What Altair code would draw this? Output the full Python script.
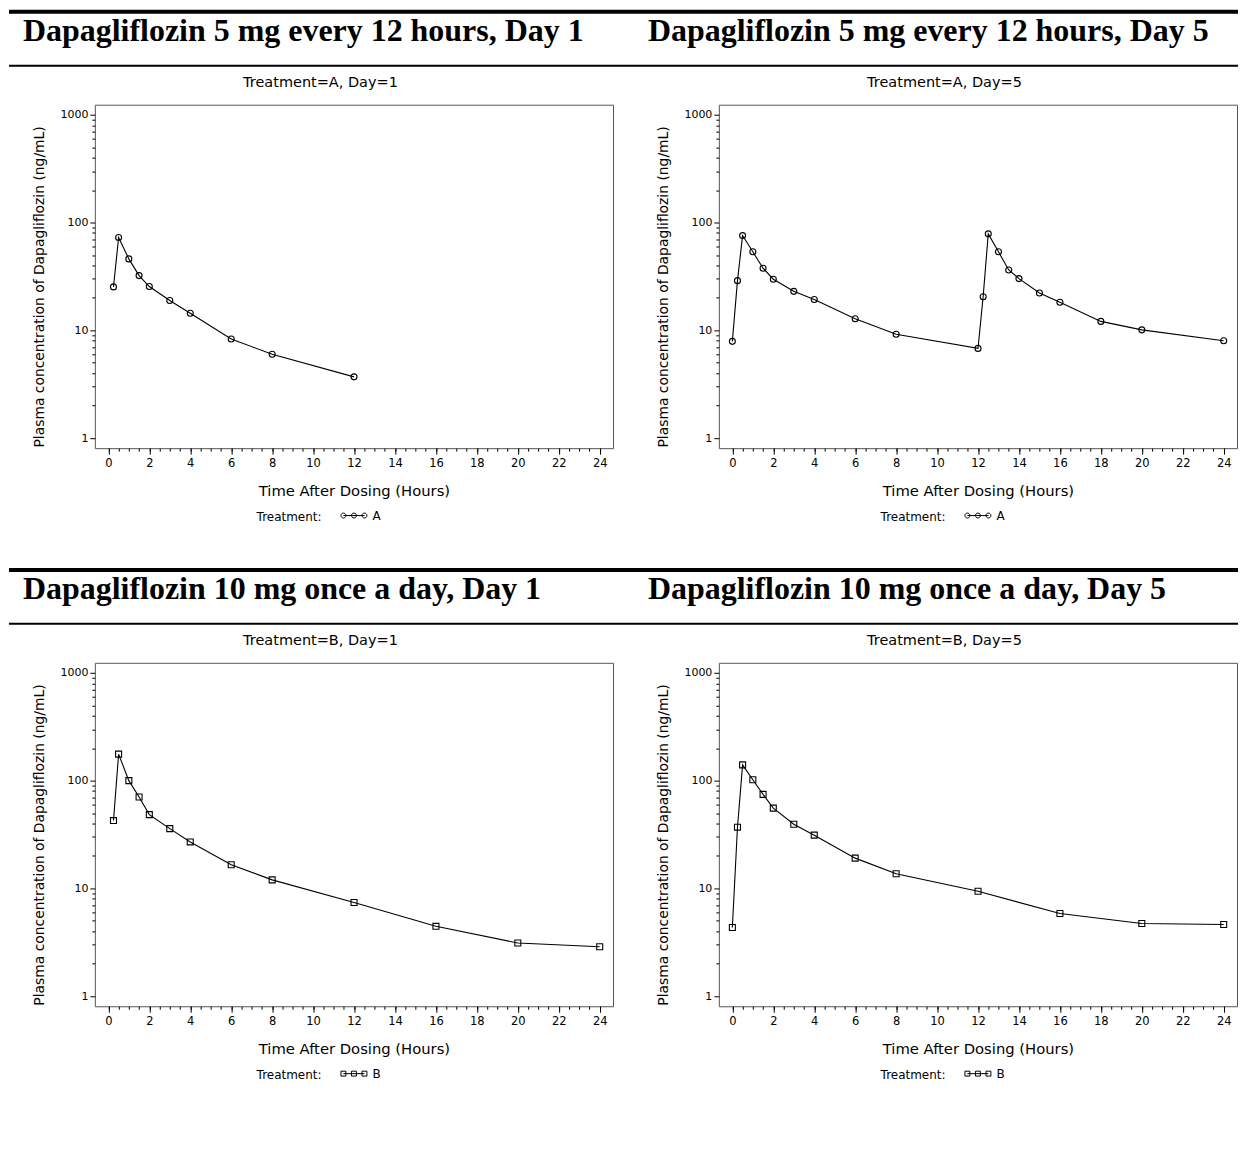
import altair as alt
import pandas as pd

# ---- data ----
times_A1 = [0.25, 0.5, 1, 1.5, 2, 3, 4, 6, 8, 12]
conc_A1 = [25.3, 72.6, 46.0, 32.2, 25.5, 18.9, 14.4, 8.3, 6.0, 3.7]

times_A5 = [0, 0.25, 0.5, 1, 1.5, 2, 3, 4, 6, 8, 12, 12.25, 12.5, 13, 13.5, 14, 15, 16, 18, 20, 24]
conc_A5 = [7.9, 28.9, 75.7, 53.5, 37.7, 29.8, 23.0, 19.3, 12.8, 9.2, 6.8,
           20.5, 78.5, 53.5, 36.3, 30.2, 22.2, 18.2, 12.1, 10.1, 8.0]

times_B1 = [0.25, 0.5, 1, 1.5, 2, 3, 4, 6, 8, 12, 16, 20, 24]
conc_B1 = [42.6, 176, 100, 70.6, 48.4, 35.9, 27.0, 16.6, 12.0, 7.4, 4.45, 3.12, 2.88]

times_B5 = [0, 0.25, 0.5, 1, 1.5, 2, 3, 4, 6, 8, 12, 16, 20, 24]
conc_B5 = [4.34, 37.0, 140, 102, 74.6, 55.6, 39.4, 31.2, 19.1, 13.7, 9.4, 5.85, 4.72, 4.63]

titles = [
    "Dapagliflozin 5 mg every 12 hours, Day 1",
    "Dapagliflozin 5 mg every 12 hours, Day 5",
    "Dapagliflozin 10 mg once a day, Day 1",
    "Dapagliflozin 10 mg once a day, Day 5",
]
subtitles = ["Treatment=A, Day=1", "Treatment=A, Day=5", "Treatment=B, Day=1", "Treatment=B, Day=5"]

x_major_ticks = list(range(0, 25, 2))
x_minor_ticks = [i * 0.5 for i in range(0, 49)]
y_major_ticks = [1, 10, 100, 1000]
y_minor_ticks = [m * d for d in (1, 10, 100) for m in range(2, 10)]

SANS = "DejaVu Sans"
SERIF = "Liberation Serif"
W, H = 519, 344

CIRCLES = ("M-0.81,0L0.81,0"
           "M-0.62,0A0.19,0.19,0,1,1,-1,0A0.19,0.19,0,1,1,-0.62,0"
           "M0.19,0A0.19,0.19,0,1,1,-0.19,0A0.19,0.19,0,1,1,0.19,0"
           "M1,0A0.19,0.19,0,1,1,0.62,0A0.19,0.19,0,1,1,1,0")
SQUARES = ("M-0.81,0L0.81,0"
           "M-1,-0.19L-0.62,-0.19L-0.62,0.19L-1,0.19Z"
           "M-0.19,-0.19L0.19,-0.19L0.19,0.19L-0.19,0.19Z"
           "M0.62,-0.19L1,-0.19L1,0.19L0.62,0.19Z")

xscale = alt.Scale(domain=[-0.66, 24.65], nice=False)
yscale = alt.Scale(type="log", domain=[0.807, 1239], nice=False)
dummy = pd.DataFrame({"d": [0]})


def panel(times, conc, treat, title, subtitle, left_col):
    df = pd.DataFrame({"time": times, "conc": conc, "treatment": [treat] * len(times)})
    base = alt.Chart(df)
    line = base.mark_line(color="black", strokeWidth=1.1).encode(
        x=alt.X("time:Q", scale=xscale, axis=alt.Axis(
            values=x_major_ticks, tickSize=6, tickColor="black", domain=False, grid=False,
            labelFont=SANS, labelFontSize=11.5, labelColor="black", labelPadding=3,
            title="Time After Dosing (Hours)", titleFont=SANS, titleFontSize=14.8,
            titleFontWeight="normal", titleColor="black", titleY=43, titleBaseline="middle",
            orient="bottom")),
        y=alt.Y("conc:Q", scale=yscale, axis=alt.Axis(
            values=y_major_ticks, format="d", tickSize=5, tickColor="black", domain=False, grid=False,
            labelFont=SANS, labelFontSize=11, labelColor="black", labelPadding=2,
            title="Plasma concentration of Dapagliflozin (ng/mL)", titleFont=SANS,
            titleFontSize=13.9, titleFontWeight="normal", titleColor="black",
            titleX=-55, titleY=182, titleAngle=270, titleAlign="center", titleBaseline="middle",
            orient="left")),
    )
    pts = base.mark_point(shape="circle" if treat == "A" else "square", filled=False,
                          size=36, strokeWidth=1.1, opacity=1).encode(
        x=alt.X("time:Q", scale=xscale, axis=alt.Axis(
            values=x_minor_ticks, tickSize=3, tickColor="black", domain=False, grid=False,
            labels=False, title=None, orient="bottom")),
        y=alt.Y("conc:Q", scale=yscale, axis=alt.Axis(
            values=y_minor_ticks, tickSize=3, tickColor="black", domain=False, grid=False,
            labels=False, title=None, orient="left")),
        color=alt.Color("treatment:N", scale=alt.Scale(range=["black"]), legend=alt.Legend(
            title="Treatment:", orient="none", legendX=162, legendY=398, direction="horizontal",
            titleOrient="left", titleAnchor="middle", titleFont=SANS, titleFontSize=12,
            titleFontWeight="normal", titleColor="black", titleBaseline="top", titlePadding=18,
            labelFont=SANS, labelFontSize=12, labelColor="black", labelOffset=5,
            symbolType=CIRCLES if treat == "A" else SQUARES, symbolSize=676,
            symbolStrokeWidth=1, symbolStrokeColor="black", padding=0)),
    )
    if left_col:
        x1, x2, tx = -86, 530, -72
    else:
        x1, x2, tx = -95, 520, -71
    thick = alt.Chart(dummy).mark_rect(color="black").encode(
        x=alt.value(x1), x2=alt.value(x2), y=alt.value(-95), y2=alt.value(-91))
    thin = alt.Chart(dummy).mark_rect(color="black").encode(
        x=alt.value(x1), x2=alt.value(x2), y=alt.value(-40), y2=alt.value(-38))
    big = alt.Chart(dummy).mark_text(text=title, font=SERIF, fontSize=32, fontWeight="bold",
                                     align="left", baseline="alphabetic", color="black").encode(
        x=alt.value(tx), y=alt.value(-64))
    sub = alt.Chart(dummy).mark_text(text=subtitle, font=SANS, fontSize=14.5,
                                     align="center", baseline="middle", color="black").encode(
        x=alt.value(226), y=alt.value(-22))
    return alt.layer(line, pts, thick, thin, big, sub).resolve_axis(
        x="independent", y="independent").properties(width=W, height=H)


p1 = panel(times_A1, conc_A1, "A", titles[0], subtitles[0], True)
p2 = panel(times_A5, conc_A5, "A", titles[1], subtitles[1], False)
p3 = panel(times_B1, conc_B1, "B", titles[2], subtitles[2], True)
p4 = panel(times_B5, conc_B5, "B", titles[3], subtitles[3], False)

chart = alt.concat(p1, p2, p3, p4, columns=2, spacing={"row": 215, "column": 106},
                   bounds="flush").resolve_scale(color="independent").resolve_legend(
    color="independent").properties(padding=0, background="white").configure_view(
    stroke="#555", strokeWidth=1)

chart.save("out.html", embed_options={"renderer": "svg", "actions": False})
